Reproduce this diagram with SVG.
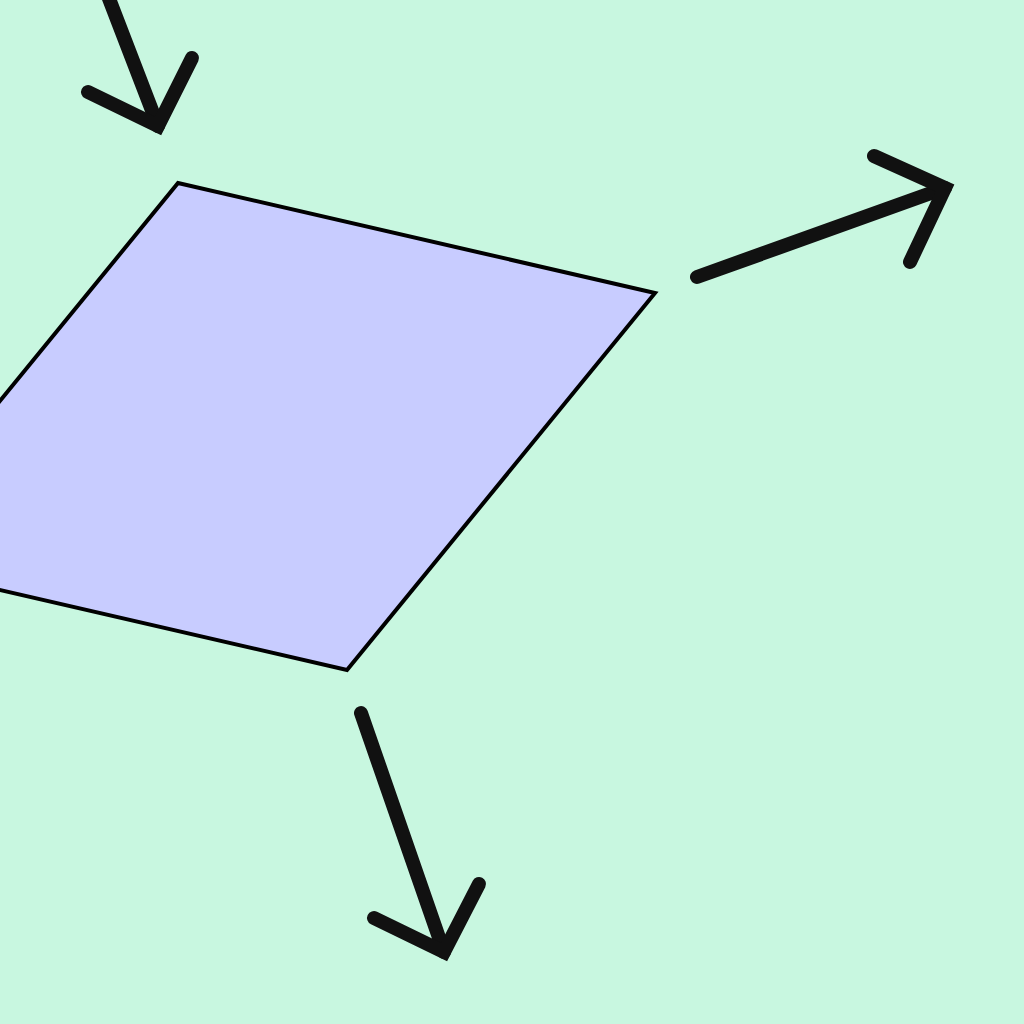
<svg xmlns="http://www.w3.org/2000/svg" width="1024" height="1024" viewBox="0 0 1024 1024">
<defs>
<style>
.conn{fill:none;stroke:#111;stroke-width:14;stroke-linecap:round;stroke-linejoin:miter}
.shape{fill:#C8CCFF;stroke:#000;stroke-width:4;stroke-linejoin:miter}
</style>
</defs>
<rect width="1024" height="1024" fill="#C8F7E0"/>
<g id="node-parallelogram">
<polygon class="shape" points="178,183 655,293 347,670 -130,560"/>
</g>
<g id="connectors">
<path class="conn" d="M108,-4 L158,126"/>
<path class="conn" d="M88,92 L158,126 L192,58"/>
<path class="conn" d="M697,277 L945,188"/>
<path class="conn" d="M874,156 L945,188 L910,262"/>
<path class="conn" d="M361,713 L444,952"/>
<path class="conn" d="M374,918 L444,952 L479,884"/>
</g>
</svg>
